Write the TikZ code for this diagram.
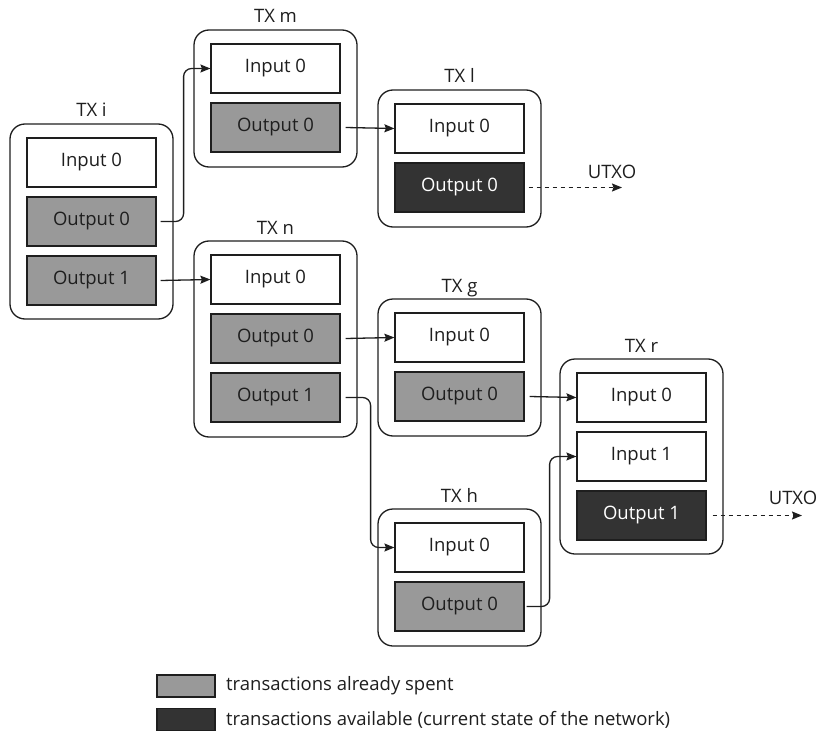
\documentclass[tikz,border=0pt]{standalone}
\usepackage{fontspec}
\setmainfont{Open Sans}
\usetikzlibrary{arrows.meta}
\definecolor{ink}{HTML}{1E1E1E}
\definecolor{spentgray}{HTML}{999999}
\definecolor{availdark}{HTML}{333333}
\begin{document}
\begin{tikzpicture}[x=1pt,y=-1pt,
  every node/.style={font=\fontsize{18.5}{22}\selectfont, text=ink},
  txframe/.style={draw=ink, line width=1.3pt, rounded corners=15pt, minimum width=163pt, inner sep=0pt},
  slot/.style={draw=ink, line width=1.2pt, minimum width=129pt, minimum height=49pt, inner sep=0pt},
  inslot/.style={slot, fill=white},
  spentslot/.style={slot, fill=spentgray},
  availslot/.style={slot, fill=availdark, text=white},
  txlabel/.style={anchor=base},
  link/.style={draw=ink, line width=1.3pt, rounded corners=8pt, -{Stealth[length=10pt,width=8pt,inset=1.5pt]}},
  utxo/.style={draw=ink, line width=1.3pt, dashed, dash pattern=on 4pt off 4pt, -{Stealth[length=10pt,width=8pt,inset=1.5pt]}},
  legendbox/.style={draw=ink, line width=1.2pt, minimum width=58pt, minimum height=22pt, inner sep=0pt},
]
\useasboundingbox (0,0) rectangle (819,733);

% ---- TX i ----
\node[txframe, minimum height=195pt] (txi) at (91.5,221.5) {};
\node[txlabel] (txilab) at (91.5,117) {TX i};
\node[inslot] (i-in0) at (91.5,162.5) {Input 0};
\node[spentslot] (i-out0) at (91.5,221.5) {Output 0};
\node[spentslot] (i-out1) at (91.5,280.5) {Output 1};

% ---- TX m ----
\node[txframe, minimum height=137pt] (txm) at (275.5,98.5) {};
\node[txlabel] (txmlab) at (275.5,23) {TX m};
\node[inslot] (m-in0) at (275.5,68.5) {Input 0};
\node[spentslot] (m-out0) at (275.5,127.5) {Output 0};

% ---- TX n ----
\node[txframe, minimum height=196pt] (txn) at (275.5,339) {};
\node[txlabel] (txnlab) at (275.5,234) {TX n};
\node[inslot] (n-in0) at (275.5,279.5) {Input 0};
\node[spentslot] (n-out0) at (275.5,338.5) {Output 0};
\node[spentslot] (n-out1) at (275.5,397.5) {Output 1};

% ---- TX l ----
\node[txframe, minimum height=137pt] (txl) at (459.5,158.5) {};
\node[txlabel] (txllab) at (459.5,83) {TX l};
\node[inslot] (l-in0) at (459.5,128.5) {Input 0};
\node[availslot] (l-out0) at (459.5,187.5) {Output 0};

% ---- TX g ----
\node[txframe, minimum height=137pt] (txg) at (459.5,367.5) {};
\node[txlabel] (txglab) at (459.5,292) {TX g};
\node[inslot] (g-in0) at (459.5,337.5) {Input 0};
\node[spentslot] (g-out0) at (459.5,396.5) {Output 0};

% ---- TX h ----
\node[txframe, minimum height=137pt] (txh) at (459.5,577.5) {};
\node[txlabel] (txhlab) at (459.5,502) {TX h};
\node[inslot] (h-in0) at (459.5,547.5) {Input 0};
\node[spentslot] (h-out0) at (459.5,606.5) {Output 0};

% ---- TX r ----
\node[txframe, minimum height=195pt] (txr) at (641.5,456.5) {};
\node[txlabel] (txrlab) at (641.5,352) {TX r};
\node[inslot] (r-in0) at (641.5,397.5) {Input 0};
\node[inslot] (r-in1) at (641.5,456.5) {Input 1};
\node[availslot] (r-out1) at (641.5,515.5) {Output 1};

% ---- spending links ----
\draw[link] ([xshift=4pt]i-out0.east) -- ([xshift=27pt]i-out0.east) |- (m-in0.west);
\draw[link] ([xshift=4pt]i-out1.east) -- (n-in0.west);
\draw[link] ([xshift=5pt]m-out0.east) -- (l-in0.west);
\draw[link] ([xshift=5pt]n-out0.east) -- (g-in0.west);
\draw[link] ([xshift=5pt]n-out1.east) -- ([xshift=30pt]n-out1.east) |- (h-in0.west);
\draw[link] ([xshift=5pt]g-out0.east) -- (r-in0.west);
\draw[link] ([xshift=2pt]h-out0.east) -- ([xshift=25pt]h-out0.east) |- (r-in1.west);

% ---- unspent outputs ----
\coordinate (l-end) at (622,187.5);
\coordinate (r-end) at (802,515.5);
\draw[utxo] ([xshift=4pt]l-out0.east) -- (l-end);
\draw[utxo] ([xshift=6pt]r-out1.east) -- (r-end);
\node (l-utxo) at (612,172) {UTXO};
\node (r-utxo) at (793,498) {UTXO};

% ---- legend ----
\node[legendbox, fill=spentgray] (leg-spent) at (186,686) {};
\node[legendbox, fill=availdark] (leg-avail) at (186,719.5) {};
\node[anchor=west, inner sep=0pt] (leg-spent-text) at (226,686) {transactions already spent};
\node[anchor=west, inner sep=0pt] (leg-avail-text) at (226,719.5) {transactions available (current state of the network)};
\end{tikzpicture}
\end{document}
